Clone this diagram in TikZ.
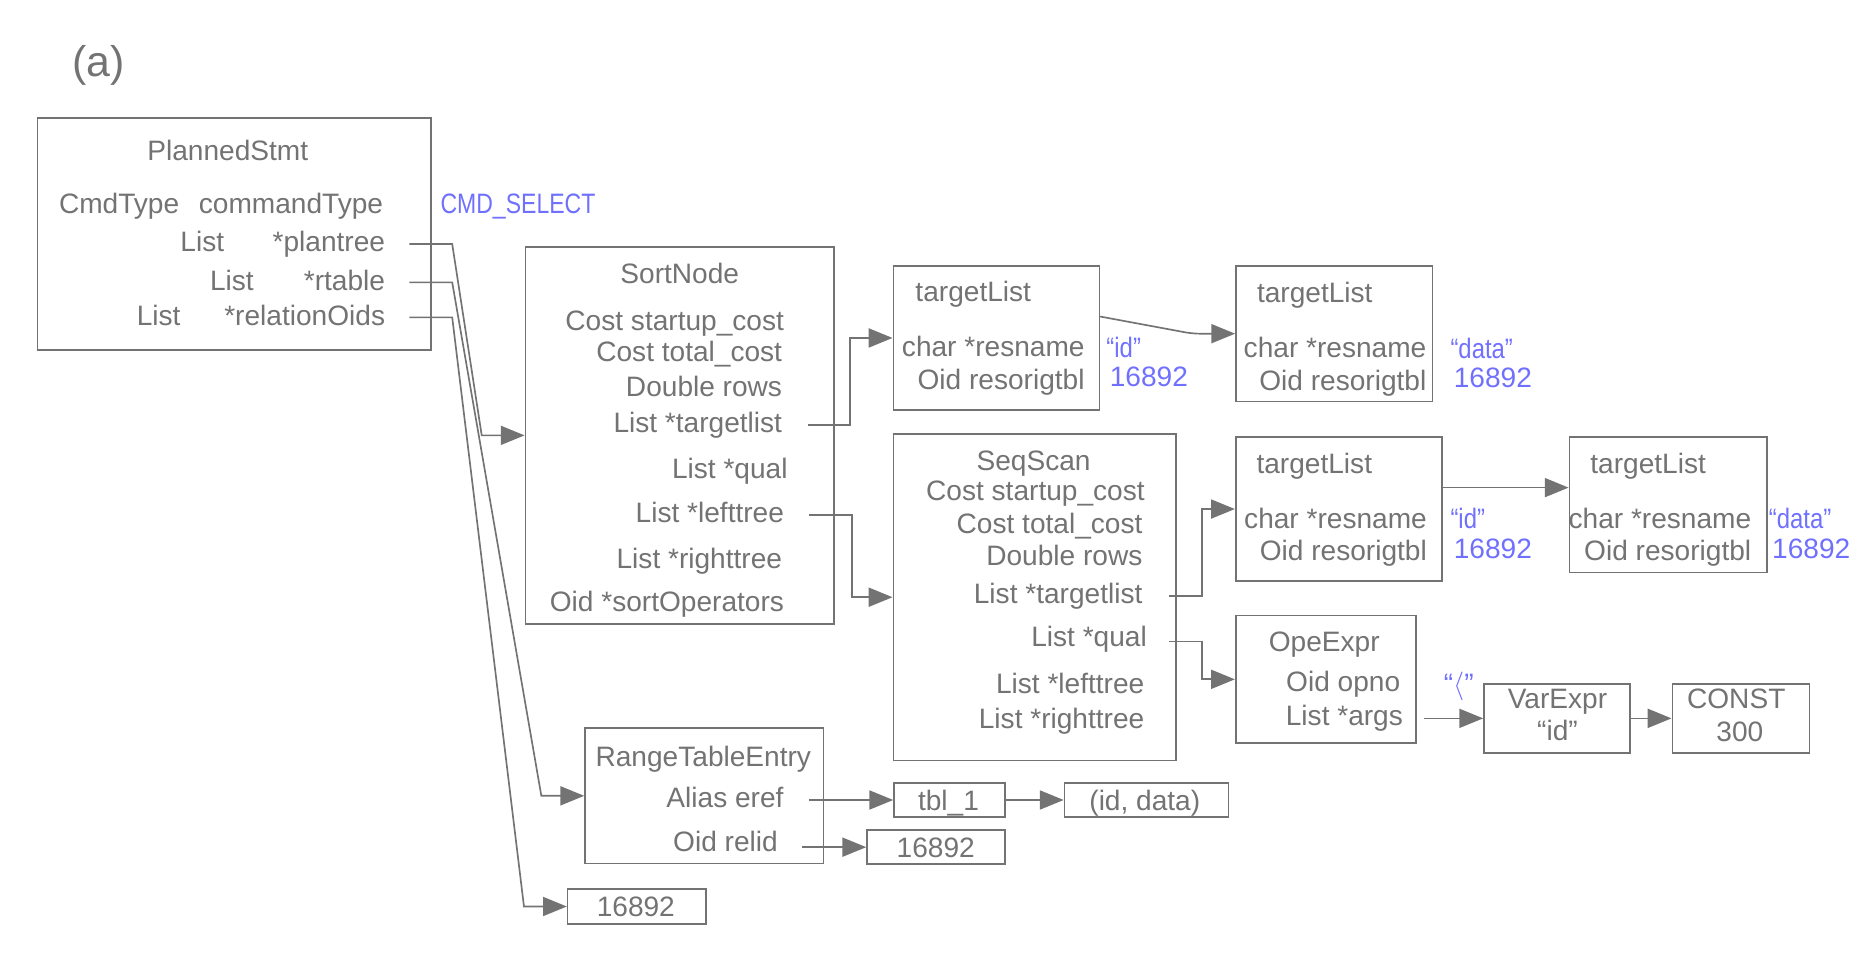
\documentclass[tikz,border=0pt]{standalone}
\usepackage{fontspec}
\setmainfont{Liberation Sans}
\usetikzlibrary{arrows.meta,fit}
\definecolor{lgray}{RGB}{115,115,115}
\definecolor{vblue}{RGB}{112,112,255}
\newcommand{\fsz}{\fontsize{11.8}{14}\selectfont}
\tikzset{
    box/.style={draw=lgray, line width=0.7pt, inner sep=0pt},
    fld/.style={text=lgray, font=\fsz, inner sep=0pt, text height=8.5pt, text depth=0pt},
    val/.style={fld, text=vblue},
    arr/.style={draw=lgray, line width=0.7pt, -{Triangle[length=10pt,width=8pt]}},
}
\begin{document}
\begin{tikzpicture}[x=0.5pt,y=-0.5pt]
    \useasboundingbox (0,0) rectangle (1567.2,822.7);
    % label
    \node[fld, font=\fontsize{18}{20}\selectfont, text height=9.4pt] (lbl) at (83,54.6) {(a)};
    % PlannedStmt
    \node[box, fit={(31.6,99.4) (362.2,294.1)}] (stmt) {};
    \node[fld] (stmtT) at (191.4,126.1) {PlannedStmt};
    \node[fld, anchor=west] (cmdK) at (49.2,170.9) {CmdType};
    \node[fld, anchor=east] (cmdV) at (322.3,170.9) {commandType};
    \foreach \n/\l/\y/\t in {plan/151.2/203.1/plantree, rtab/176.1/235.3/rtable, roid/114.6/264.7/relationOids} {
        \node[fld, anchor=west] (\n-k) at (\l,\y) {List};
        \node[fld, anchor=east] (\n) at (324,\y) {*\t};
    }
    \node[val, anchor=west] (cmdS) at (369.8,170.9) {\scalebox{0.82}[1]{CMD\_SELECT}};
    % SortNode
    \node[box, fit={(441.5,207.3) (700.8,524.4)}] (sort) {};
    \node[fld] (sortT) at (571.2,229.4) {SortNode};
    \foreach \x/\y/\t [count=\i] in {659.2/269.5/Cost startup\_cost, 657.6/295.5/Cost total\_cost,
            657.6/324.4/Double rows, 657.6/355.2/List *targetlist, 662.2/393.6/List *qual,
            659.2/430.8/List *lefttree, 657.6/469.2/List *righttree, 659.2/505.6/Oid *sortOperators}
        \node[fld, anchor=east] (sort\i) at (\x,\y) {\t};
    % SeqScan
    \node[box, fit={(750.7,364.7) (988.2,639)}] (seq) {};
    \node[fld] (seqT) at (868.5,386.6) {SeqScan};
    \foreach \x/\y/\t [count=\i] in {962.3/412.3/Cost startup\_cost, 960.4/439.8/Cost total\_cost,
            960.4/466.4/Double rows, 960.4/498.6/List *targetlist, 964.1/535/List *qual,
            962/574/List *lefttree, 962/604/List *righttree}
        \node[fld, anchor=east] (seq\i) at (\x,\y) {\t};
    % targetList boxes
    \node[box, fit={(750.7,223.5) (923.8,344.5)}] (tl1) {};
    \node[box, fit={(1038.6,223.5) (1203.8,337.3)}] (tl2) {};
    \node[box, fit={(1038.4,367.5) (1211.5,488)}] (tl3) {};
    \node[box, fit={(1318.8,367.5) (1484.9,481.2)}] (tl4) {};
    \foreach \n/\l/\r/\y/\v/\s in {tl1/768.9/911.8/245.1/929.4/“id”, tl2/1055.9/1199/245.9/1218.5/“data”,
            tl3/1055.5/1199.4/389.3/1218.5/“id”, tl4/1336/1472/389.3/1486/“data”} {
        \node[fld, anchor=west] (\n-t) at (\l,\y) {targetList};
        \node[fld, anchor=east] (\n-a) at (\r,\y+46) {char *resname};
        \node[fld, anchor=east] (\n-b) at (\r,\y+73.5) {Oid resorigtbl};
        \node[val, anchor=west] (\n-v) at (\v,\y+46.5) {\scalebox{0.85}[1]{\s}};
        \node[val, anchor=west] (\n-w) at (\v+2.8,\y+71.5) {16892};
    }
    % OpeExpr, VarExpr, CONST
    \node[box, fit={(1038.4,517.1) (1189.9,624.6)}] (ope) {};
    \node[fld] (opeT) at (1112.8,539.2) {OpeExpr};
    \node[fld, anchor=east] (ope1) at (1177,572.8) {Oid opno};
    \node[fld, anchor=east] (ope2) at (1179.3,600.8) {List *args};
    \node[val] (opeV) at (1225.9,574.2) {“\(\langle\)”};
    \node[box, fit={(1247,574.8) (1369.7,632.5)}] (var) {};
    \node[fld] (varT) at (1308.8,586.8) {VarExpr};
    \node[fld] (varV) at (1308.8,613.4) {“id”};
    \node[box, fit={(1405.3,574.8) (1520.4,632.5)}] (cst) {};
    \node[fld] (cstT) at (1459,586.8) {CONST};
    \node[fld] (cstV) at (1462,614.9) {300};
    % RangeTableEntry
    \node[box, fit={(491.6,612) (691.9,725.5)}] (rte) {};
    \node[fld] (rteT) at (591,635.9) {RangeTableEntry};
    \node[fld, anchor=east] (rte1) at (658.8,670) {Alias eref};
    \node[fld, anchor=east] (rte2) at (654,706.7) {Oid relid};
    \node[box, fit={(751.3,657.7) (844.6,686.8)}] (tbl) {};
    \node[fld] (tblT) at (797,672.3) {tbl\_1};
    \node[box, fit={(894.5,657.7) (1032.2,686.8)}] (idd) {};
    \node[fld] (iddT) at (962,672.3) {(id, data)};
    \node[box, fit={(728.6,697.5) (844.6,726.3)}] (oidb) {};
    \node[fld] (oidbT) at (786.3,711.9) {16892};
    \node[box, fit={(477,747) (593,776.5)}] (oidc) {};
    \node[fld] (oidcT) at (534.3,761.7) {16892};
    % pointers
    \draw[arr] ([shift={(10pt,-1pt)}]plan.east) -- ++(36,0) -- ([xshift=-18pt]sort.west) -- (sort.west);
    \draw[arr] ([shift={(10pt,-1pt)}]rtab.east) -- ++(36,0) -- ([xshift=-18pt]rte.west) -- (rte.west);
    \draw[arr] ([shift={(10pt,-1pt)}]roid.east) -- ++(36,0) -- ([xshift=-18pt]oidc.west) -- (oidc.west);
    \draw[arr] ([shift={(10.5pt,-1pt)}]sort4.east) -- ++(35.6,0) |- (tl1.west);
    \draw[arr] ([shift={(10.5pt,-1pt)}]sort6.east) -- ++(35.6,0) |- (seq.west);
    \draw[arr] ([shift={(10.8pt,-1pt)}]seq4.east) -- ++(27.8,0) |- (tl3.west);
    \draw[arr] ([shift={(9pt,-2pt)}]seq5.east) -- ++(27.8,0) |- (ope.west);
    \draw[arr, rounded corners=3pt] ([yshift=9pt]tl1.east) -- ([xshift=-17.9pt]tl2.west) -- (tl2.west);
    \draw[arr] ([yshift=9pt]tl3.east) -- ([yshift=7.3pt]tl4.west);
    \draw[arr] ([xshift=8.7pt]ope2.east |- var.west) -- (var.west);
    \draw[arr] (var.east) -- (cst.west);
    \draw[arr] ([xshift=10.3pt]rte1.east |- tbl.west) -- (tbl.west);
    \draw[arr] (tbl.east) -- (idd.west);
    \draw[arr] ([xshift=9.9pt]rte2.east |- oidb.west) -- (oidb.west);
\end{tikzpicture}
\end{document}
